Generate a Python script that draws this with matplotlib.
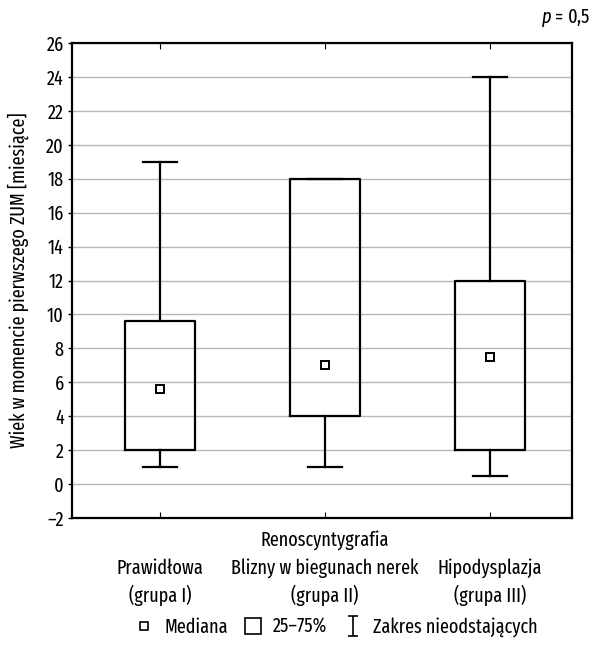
import matplotlib
matplotlib.use('Agg')
import matplotlib.pyplot as plt
from matplotlib.lines import Line2D
from matplotlib.path import Path

plt.rcParams['font.family'] = ['Fira Sans Extra Condensed', 'DejaVu Sans']
plt.rcParams['font.size'] = 14.2
plt.rcParams['mathtext.fontset'] = 'custom'
plt.rcParams['mathtext.it'] = 'Fira Sans Extra Condensed:italic'
plt.rcParams['mathtext.rm'] = 'Fira Sans Extra Condensed'

# dane
groups = ['Prawidłowa\n(grupa I)', 'Blizny w biegunach nerek\n(grupa II)', 'Hipodysplazja\n(grupa III)']
medians = [5.6, 7.0, 7.5]
q1 = [2.0, 4.0, 2.0]
q3 = [9.6, 18.0, 12.0]
whis_lo = [1.0, 1.0, 0.5]
whis_hi = [19.0, 18.0, 24.0]
yticks = list(range(-2, 27, 2))

stats = []
for i in range(len(groups)):
    stats.append({'med': medians[i], 'q1': q1[i], 'q3': q3[i],
                  'whislo': whis_lo[i], 'whishi': whis_hi[i], 'fliers': []})

fig = plt.figure(figsize=(5.95, 6.5), dpi=100)
ax = fig.add_axes([72/595, 1 - 518/650, 500/595, 475/650])

pos = list(range(len(groups)))
ax.bxp(stats, positions=pos, widths=0.42, showfliers=False,
       boxprops=dict(color='black', linewidth=1.6),
       whiskerprops=dict(color='black', linewidth=1.6),
       capprops=dict(color='black', linewidth=1.6),
       medianprops=dict(linewidth=0), capwidths=0.21, zorder=3)
ax.plot(pos, medians, linestyle='none', marker='s', markersize=6,
        markerfacecolor='white', markeredgecolor='black', markeredgewidth=1.4, zorder=4)

ax.set_ylim(-2, 26)
ax.set_xlim(-0.533, 2.497)
ax.set_yticks(yticks)
ax.set_yticklabels([str(t).replace('-', '–') for t in yticks])
ax.yaxis.grid(True, color='#b8b8b8', linewidth=1.0)
ax.set_axisbelow(True)
ax.set_xticks(pos)
ax.set_xticklabels(groups, linespacing=1.4)
ax.tick_params(axis='x', direction='in', length=4, top=True, pad=29)
ax.tick_params(axis='y', direction='out', length=3, width=1, pad=3)
for s in ax.spines.values():
    s.set_linewidth(1.6)

ax.set_ylabel('Wiek w momencie pierwszego ZUM [miesiące]')
ax.yaxis.set_label_coords(-0.085, 0.5)
ax.text(1, -22/475, 'Renoscyntygrafia', transform=ax.get_xaxis_transform(),
        ha='center', va='center')

fig.text(590/595, 1 - 18/650, r'$p$ = 0,5', ha='right', va='center')

ibeam = Path([(-0.5, 1), (0.5, 1), (0, 1), (0, -1), (-0.5, -1), (0.5, -1)],
             [Path.MOVETO, Path.LINETO, Path.MOVETO, Path.LINETO, Path.MOVETO, Path.LINETO])
handles = [
    Line2D([], [], linestyle='none', marker='s', markersize=6, markerfacecolor='white',
           markeredgecolor='black', markeredgewidth=1.2),
    Line2D([], [], linestyle='none', marker='s', markersize=12, markerfacecolor='white',
           markeredgecolor='black', markeredgewidth=1.2),
    Line2D([], [], linestyle='none', marker=ibeam, markersize=14, color='black',
           markeredgewidth=1.2),
]
fig.legend(handles, ['Mediana', '25–75%', 'Zakres nieodstających'], ncol=3,
           loc='center', bbox_to_anchor=(337/595, 1 - 627/650), frameon=False,
           handlelength=0.8, handletextpad=0.6, columnspacing=0.9)

fig.savefig('out.png', dpi=100)
